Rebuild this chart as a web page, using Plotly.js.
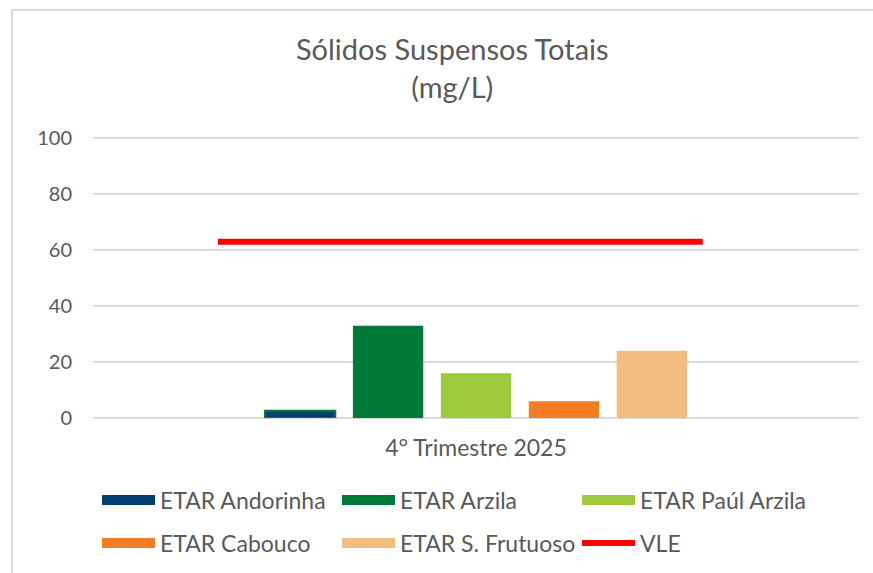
<!DOCTYPE html>
<html>
<head>
<meta charset="utf-8">
<script src="https://cdn.plot.ly/plotly-3.0.1.min.js"></script>
<style>
  html, body { margin:0; padding:0; background:#fff; }
  #wrap { position:relative; width:873px; height:573px; overflow:hidden; }
  #chart { width:873px; height:573px; }
  #frame { position:absolute; left:11px; top:9px; width:900px; height:600px;
           border-left:2px solid #d9d9d9; border-top:2px solid #d9d9d9; pointer-events:none; }
</style>
</head>
<body>
<div id="wrap"><div id="chart"></div><div id="frame"></div></div>
<script>
// ---- data ----
const category = "4° Trimestre 2025";
const seriesNames = ["ETAR Andorinha", "ETAR Arzila", "ETAR Paúl Arzila", "ETAR Cabouco", "ETAR S. Frutuoso"];
const seriesValues = [2.6, 33, 16, 6, 24];
const vleName = "VLE";
const vleValue = 63;
const yTicks = [0, 20, 40, 60, 80, 100];

// ---- styles ----
const colors = ["#003f72", "#007a37", "#9dc93d", "#f47d22", "#f2be7f"];
const borderColors = ["#007a37", "#007a37", "#9dc93d", "#f47d22", "#f2be7f"];
const txt = "#595959";
const fontFam = "Lato, 'Open Sans', sans-serif";

const traces = [];
seriesNames.forEach((n, i) => {
  traces.push({
    type: "bar", x: [0], y: [seriesValues[i]], name: n, offsetgroup: String(i),
    marker: { color: colors[i], line: { color: borderColors[i], width: i === 0 ? 2 : 0 } },
    showlegend: false, hoverinfo: "name+y"
  });
});
// VLE line spans part of the category width
const vleSpan = [-0.337, 0.296];
traces.push({
  type: "scatter", mode: "lines", x: vleSpan, y: [vleValue, vleValue], name: vleName,
  line: { color: "#ff0000", width: 6 }, showlegend: false
});
// legend entries
seriesNames.forEach((n, i) => {
  traces.push({
    type: "scatter", mode: "lines", x: [null], y: [null], name: n,
    line: { color: colors[i], width: 13 }, legend: i < 3 ? "legend" : "legend2", hoverinfo: "skip"
  });
});
traces.push({
  type: "scatter", mode: "lines", x: [null], y: [null], name: vleName,
  line: { color: "#ff0000", width: 6 }, legend: "legend2", hoverinfo: "skip"
});

const legendCommon = {
  orientation: "h", xanchor: "left", yanchor: "middle", yref: "container",
  entrywidth: 172, entrywidthmode: "pixels", itemwidth: 53,
  font: { family: fontFam, size: 23, color: txt }, bgcolor: "rgba(0,0,0,0)", traceorder: "normal"
};

const layout = {
  width: 873, height: 573, autosize: false,
  margin: { l: 93, r: 14, t: 137, b: 155 },
  paper_bgcolor: "#fff", plot_bgcolor: "#fff",
  font: { family: fontFam, color: txt },
  title: {
    text: "Sólidos Suspensos Totais<br>(mg/L)",
    font: { family: fontFam, size: 29, color: txt },
    xref: "paper", x: 0.469, xanchor: "center",
    yref: "container", y: 1 - 60 / 573, yanchor: "top"
  },
  barmode: "group", bargap: 0.426, bargroupgap: 0.2,
  xaxis: {
    type: "linear", range: [-0.5, 0.5], tickvals: [0], ticktext: [category],
    showgrid: false, zeroline: false, showline: false, ticks: "", ticklabelstandoff: 14,
    tickfont: { family: fontFam, size: 23, color: txt }, fixedrange: true
  },
  yaxis: {
    range: [0, 100.4], tickvals: yTicks, ticktext: yTicks.map(String),
    showgrid: true, gridcolor: "#d9d9d9", gridwidth: 1.5,
    zeroline: true, zerolinecolor: "#d9d9d9", zerolinewidth: 1.5,
    showline: false, ticks: "", ticklabelstandoff: 20,
    tickfont: { family: fontFam, size: 20, color: txt }, fixedrange: true
  },
  legend: Object.assign({}, legendCommon, { x: 4 / 766, y: 1 - 500 / 573 }),
  legend2: Object.assign({}, legendCommon, { x: 4 / 766, y: 1 - 543 / 573 }),
  showlegend: true
};

Plotly.newPlot("chart", traces, layout, { displayModeBar: false, staticPlot: true });
</script>
</body>
</html>
